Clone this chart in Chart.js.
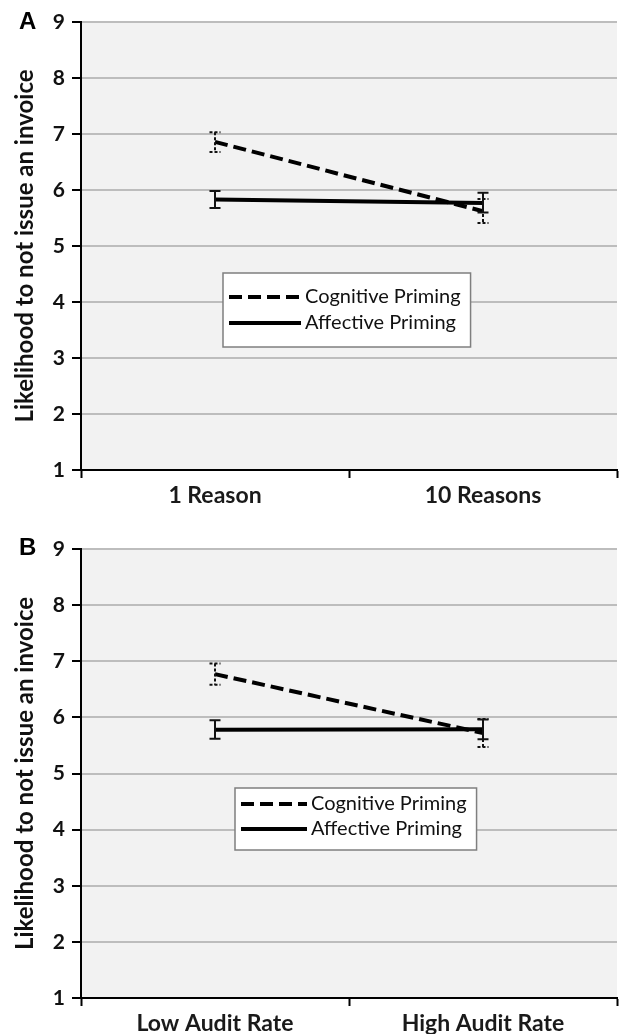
<!DOCTYPE html>
<html>
<head>
<meta charset="utf-8">
<script src="https://cdn.jsdelivr.net/npm/chart.js@4.4.1/dist/chart.umd.min.js"></script>
<style>
  body { margin: 0; background: #fff; }
  .panel { position: absolute; left: 0; width: 619px; }
</style>
</head>
<body>
<div class="panel" style="top:0;height:517px"><canvas id="chartA"></canvas></div>
<div class="panel" style="top:517px;height:517px"><canvas id="chartB"></canvas></div>
<script>
// data
const yTicks = [1, 2, 3, 4, 5, 6, 7, 8, 9];
const seriesNames = ["Cognitive Priming", "Affective Priming"];

const labelsA = ["1 Reason", "10 Reasons"];
const cognitiveA = [6.86, 5.62];
const cognitiveA_lo = [6.68, 5.41];
const cognitiveA_hi = [7.03, 5.84];
const affectiveA = [5.83, 5.77];
const affectiveA_lo = [5.68, 5.60];
const affectiveA_hi = [5.98, 5.95];

const labelsB = ["Low Audit Rate", "High Audit Rate"];
const cognitiveB = [6.77, 5.72];
const cognitiveB_lo = [6.58, 5.47];
const cognitiveB_hi = [6.96, 5.97];
const affectiveB = [5.78, 5.79];
const affectiveB_lo = [5.62, 5.61];
const affectiveB_hi = [5.95, 5.96];

const FONT = "Lato, 'Open Sans', sans-serif";

/* plot area background */
const plotBg = {
  id: 'plotBg',
  beforeDraw(chart) {
    const { ctx, chartArea: a } = chart;
    ctx.save();
    ctx.fillStyle = '#f2f2f2';
    ctx.fillRect(a.left, a.top, a.right - a.left, a.bottom - a.top);
    ctx.restore();
  }
};

/* error bars, from the lo/hi arrays through the scales */
const errorBars = {
  id: 'errorBars',
  afterDatasetsDraw(chart, args, opts) {
    const { ctx, scales: { x, y } } = chart;
    opts.bars.forEach(b => {
      b.lo.forEach((lo, i) => {
        const px = x.getPixelForValue(i);
        const top = y.getPixelForValue(b.hi[i]);
        const bot = y.getPixelForValue(lo);
        ctx.save();
        ctx.strokeStyle = '#111';
        ctx.lineWidth = 2;
        ctx.setLineDash(b.dash);
        ctx.beginPath();
        ctx.moveTo(px, top); ctx.lineTo(px, bot);
        ctx.moveTo(px - 5.5, top); ctx.lineTo(px + 5.5, top);
        ctx.moveTo(px - 5.5, bot); ctx.lineTo(px + 5.5, bot);
        ctx.stroke();
        ctx.restore();
      });
    });
  }
};

/* legend box inside the plot, plus panel letter */
const boxLegend = {
  id: 'boxLegend',
  afterDraw(chart, args, opts) {
    const { ctx } = chart;
    ctx.save();
    ctx.font = "20px " + FONT;
    const w = Math.max(...seriesNames.map(t => ctx.measureText(t).width));
    const bx = opts.x, by = opts.y;
    const bw = opts.lineLen + 12 + w + 8;
    ctx.fillStyle = '#fff';
    ctx.fillRect(bx, by, bw, opts.h);
    ctx.strokeStyle = '#7f7f7f';
    ctx.lineWidth = 1.5;
    ctx.strokeRect(bx, by, bw, opts.h);
    chart.data.datasets.forEach((ds, i) => {
      const ry = by + opts.rows[i];
      ctx.strokeStyle = '#000';
      ctx.lineWidth = 4;
      ctx.setLineDash(ds.borderDash || []);
      ctx.beginPath();
      ctx.moveTo(bx + 6, ry); ctx.lineTo(bx + 6 + opts.lineLen, ry);
      ctx.stroke();
      ctx.setLineDash([]);
      ctx.fillStyle = '#111';
      ctx.textBaseline = 'middle';
      ctx.fillText(ds.label, bx + 6 + opts.lineLen + 4, ry);
    });
    ctx.font = "bold 24px 'Liberation Sans', Arial, sans-serif";
    ctx.fillStyle = '#000';
    ctx.textBaseline = 'middle';
    ctx.fillText(opts.letter, 19, opts.letterY);
    ctx.restore();
  }
};

function makeChart(id, labels, cog, cogLo, cogHi, aff, affLo, affHi, padTop, axisH, legend) {
  return new Chart(document.getElementById(id), {
    type: 'line',
    data: {
      labels: labels,
      datasets: [
        { label: seriesNames[0], data: cog, borderColor: '#000', borderWidth: 4,
          borderDash: [13, 6], pointRadius: 0, tension: 0 },
        { label: seriesNames[1], data: aff, borderColor: '#000', borderWidth: 4,
          pointRadius: 0, tension: 0 }
      ]
    },
    options: {
      responsive: true,
      maintainAspectRatio: false,
      animation: false,
      layout: { padding: { top: padTop, right: 2, left: 0, bottom: 0 } },
      plugins: {
        legend: { display: false },
        tooltip: { enabled: false },
        errorBars: {
          bars: [
            { lo: cogLo, hi: cogHi, dash: [3, 2] },
            { lo: affLo, hi: affHi, dash: [] }
          ]
        },
        boxLegend: legend
      },
      scales: {
        x: {
          offset: true,
          grid: { offset: true, drawOnChartArea: false, tickLength: 8, tickColor: '#000', tickWidth: 2 },
          border: { color: '#000', width: 2 },
          ticks: { color: '#1a1a1a', padding: 4, font: { family: FONT, size: 23, weight: 'bold' } },
          afterFit: s => { s.height = axisH; }
        },
        y: {
          min: yTicks[0],
          max: yTicks[yTicks.length - 1],
          afterBuildTicks: s => { s.ticks = yTicks.map(v => ({ value: v })); },
          grid: { color: '#bdbdbd', lineWidth: 2, tickLength: 9, tickColor: '#000', tickWidth: 2 },
          border: { color: '#000', width: 2 },
          ticks: { color: '#111', padding: 7, font: { family: FONT, size: 21, weight: 'bold' } },
          title: {
            display: true,
            text: 'Likelihood to not issue an invoice',
            color: '#111',
            padding: { top: 11, bottom: 0 },
            font: { family: FONT, size: 24, weight: 'bold' }
          },
          afterFit: s => { s.width = 81; }
        }
      }
    },
    plugins: [plotBg, errorBars, boxLegend]
  });
}

makeChart('chartA', labelsA, cognitiveA, cognitiveA_lo, cognitiveA_hi,
  affectiveA, affectiveA_lo, affectiveA_hi, 22, 47,
  { x: 223, y: 273, h: 74, rows: [24, 50], lineLen: 72, letter: 'A', letterY: 22 });

makeChart('chartB', labelsB, cognitiveB, cognitiveB_lo, cognitiveB_hi,
  affectiveB, affectiveB_lo, affectiveB_hi, 32, 36,
  { x: 235, y: 271, h: 62, rows: [16, 41], lineLen: 66, letter: 'B', letterY: 31 });
</script>
</body>
</html>
